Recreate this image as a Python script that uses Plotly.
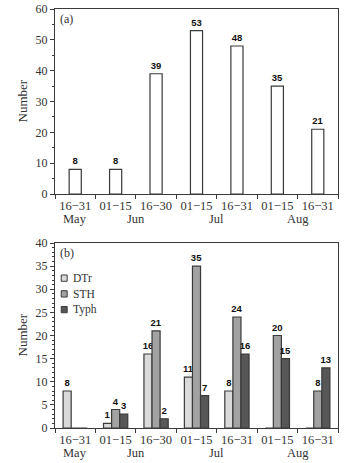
import plotly.graph_objects as go

# ---- data ----
periods = ["16−31", "01−15", "16−30", "01−15", "16−31", "01−15", "16−31"]
months = ["May", "Jun", "Jul", "Aug"]
month_pos = [0, 1.5, 3.5, 5.5]
total = [8, 8, 39, 53, 48, 35, 21]
dtr = [8, 1, 16, 11, 8, 0, 0]
sth = [0, 4, 21, 35, 24, 20, 8]
typh = [0, 3, 2, 7, 16, 15, 13]
series_names = ["DTr", "STH", "Typh"]
series_colors = ["#dadada", "#a2a2a2", "#575757"]

x = list(range(len(periods)))
EDGE = "#3a3a3a"
SERIF = "Liberation Serif"
LABFONT = dict(family="Liberation Sans", size=9.5, color="#111", weight="bold")

def lab(v):
    return [str(a) if a != 0 else "" for a in v]

fig = go.Figure()

fig.add_trace(go.Bar(
    x=x, y=total, width=0.3, xaxis="x", yaxis="y",
    marker=dict(color="white", line=dict(color=EDGE, width=1.2)),
    text=lab(total), textposition="outside", textfont=LABFONT, constraintext="none",
    cliponaxis=False, showlegend=False))

for name, vals, col in zip(series_names, [dtr, sth, typh], series_colors):
    fig.add_trace(go.Bar(
        x=x, y=vals, name=name, xaxis="x2", yaxis="y2",
        marker=dict(color=col, line=dict(color=EDGE, width=1.2)),
        text=lab(vals), textposition="outside", textfont=LABFONT, constraintext="none",
        cliponaxis=False, showlegend=False))

bounds = [i - 0.5 for i in range(len(periods) + 1)]

def xax(anchor):
    return dict(
        anchor=anchor, range=[-0.5, len(periods) - 0.5], automargin=False,
        tickvals=x, ticktext=periods, ticks="", showgrid=False, zeroline=False,
        showline=True, mirror=True, linecolor=EDGE, linewidth=1.2,
        tickfont=dict(family=SERIF, size=12.5, color="#333"),
        minor=dict(tickvals=bounds, ticks="outside", ticklen=4, tickcolor=EDGE, showgrid=False),
    )

def yax(anchor, domain, rng, dtick, mdtick):
    return dict(
        anchor=anchor, domain=domain, range=rng, dtick=dtick, automargin=False,
        ticks="outside", ticklen=4, tickcolor=EDGE, showgrid=False, zeroline=False,
        showline=True, mirror=True, linecolor=EDGE, linewidth=1.2,
        tickfont=dict(family=SERIF, size=12, color="#333"),
        minor=dict(dtick=mdtick, ticks="outside", ticklen=2, tickcolor=EDGE, showgrid=False),
    )

ya_dom = [234 / 419, 1]
yb_dom = [0, 185 / 419]

fig.update_layout(
    width=350, height=463,
    margin=dict(l=55, r=12, t=9, b=35, autoexpand=False),
    paper_bgcolor="white", plot_bgcolor="white",
    barmode="group", bargap=0.4, bargroupgap=0,
    xaxis=xax("y"),
    yaxis=yax("x", ya_dom, [0, 60], 10, 5),
    xaxis2=xax("y2"),
    yaxis2=yax("x2", yb_dom, [0, 40], 5, 1),
)

ann = []
for xr, yr in [("x", "y domain"), ("x2", "y2 domain")]:
    for m, p in zip(months, month_pos):
        ann.append(dict(x=p, y=0, xref=xr, yref=yr, text=m, showarrow=False,
                        yshift=-25, yanchor="middle",
                        font=dict(family=SERIF, size=12.5, color="#333")))
# panel labels
ann.append(dict(x=0.01, y=0.995, xref="x domain", yref="y domain", text="(a)", showarrow=False,
                xanchor="left", yanchor="top", font=dict(family=SERIF, size=12, color="#333")))
ann.append(dict(x=0.01, y=0.995, xref="x2 domain", yref="y2 domain", text="(b)", showarrow=False,
                xanchor="left", yanchor="top", font=dict(family=SERIF, size=12, color="#333")))
# y titles
for yr in ["y domain", "y2 domain"]:
    ann.append(dict(x=-33 / 283, y=0.5, xref="paper", yref=yr, text="Number", showarrow=False,
                    textangle=-90, xanchor="center", yanchor="middle",
                    font=dict(family=SERIF, size=13, color="#333")))

# manual legend in panel b
shapes = []
leg_y = [0.81, 0.725, 0.64]
for name, col, yy in zip(series_names, series_colors, leg_y):
    shapes.append(dict(type="rect", xref="x2 domain", yref="y2 domain",
                       x0=0.022, x1=0.043, y0=yy - 0.017, y1=yy + 0.017,
                       fillcolor=col, line=dict(color=EDGE, width=1)))
    ann.append(dict(x=0.055, y=yy, xref="x2 domain", yref="y2 domain", text=name, showarrow=False,
                    xanchor="left", yanchor="middle",
                    font=dict(family=SERIF, size=11.5, color="#333")))

fig.update_layout(annotations=ann, shapes=shapes)
fig.write_html("out.html", config={"displayModeBar": False},
               post_script="document.body.style.margin='0';document.body.style.padding='0';")
